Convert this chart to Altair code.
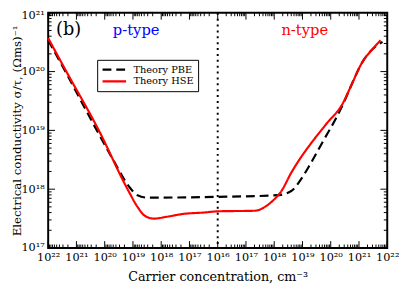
import json
import math
import altair as alt
import pandas as pd

# ---------------- data ----------------
# p-type side (hole concentration, cm^-3) and n-type side (electron concentration)
pbe_p_conc = [1e22, 2.6e21, 2.0e20, 5.1e19, 1.3e19, 6.9e18, 3.2e18, 9.5e17, 1e16]
pbe_p_sigma = [3.4e20, 1.05e20, 1.05e19, 3.2e18, 1.07e18, 7.9e17, 7.2e17, 7.2e17, 7.4e17]
pbe_n_conc = [1e16, 1.3e18, 4.0e18, 8.9e18, 2.0e19, 5.6e19, 1.6e20, 2.75e20, 4.8e20, 1.35e21, 3.0e21, 6.8e21]
pbe_n_sigma = [7.4e17, 7.9e17, 9.3e17, 1.48e18, 2.8e18, 6.8e18, 1.66e19, 2.8e19, 5.2e19, 1.48e20, 2.4e20, 3.2e20]

hse_p_conc = [1e22, 2.4e21, 1.7e20, 1.55e19, 6.9e18, 3.7e18, 1.8e18, 6.3e17, 1.6e17, 3.3e16, 1e16]
hse_p_sigma = [3.7e20, 1.05e20, 1.05e19, 1.0e18, 5.0e17, 3.5e17, 3.16e17, 3.4e17, 3.8e17, 4.0e17, 4.2e17]
hse_n_conc = [1e16, 2.1e17, 4.7e17, 8.7e17, 1.8e18, 4.0e18, 8.9e18, 2.0e19, 7.1e19, 2.75e20, 4.8e20, 1.35e21, 3.0e21, 5.8e21]
hse_n_sigma = [4.2e17, 4.3e17, 5.0e17, 6.3e17, 9.3e17, 1.9e18, 3.5e18, 6.0e18, 1.3e19, 2.95e19, 5.2e19, 1.48e20, 2.4e20, 3.4e20]

series_names = ["Theory PBE", "Theory HSE"]
series_colors = ["#000000", "#ff0000"]

x_tick_labels = ["10²²", "10²¹", "10²⁰", "10¹⁹", "10¹⁸", "10¹⁷", "10¹⁶",
                 "10¹⁷", "10¹⁸", "10¹⁹", "10²⁰", "10²¹", "10²²"]
y_tick_values = [1e17, 1e18, 1e19, 1e20, 1e21]
y_tick_labels = ["10¹⁷", "10¹⁸", "10¹⁹", "10²⁰", "10²¹"]

# ---------------- build table ----------------
rows = []
def add(name, pc, ps, nc, ns):
    for c, s in zip(pc, ps):
        rows.append({"series": name, "u": 16 - math.log10(c), "sigma": s})
    for c, s in list(zip(nc, ns))[1:]:
        rows.append({"series": name, "u": math.log10(c) - 16, "sigma": s})

add("Theory PBE", pbe_p_conc, pbe_p_sigma, pbe_n_conc, pbe_n_sigma)
add("Theory HSE", hse_p_conc, hse_p_sigma, hse_n_conc, hse_n_sigma)
df = pd.DataFrame(rows)

# tick positions (log decades mirrored about 10^16)
xmaj = [{"u": float(k)} for k in range(-6, 7)]
xmin = []
for e in range(16, 22):
    for m in range(2, 10):
        d = e + math.log10(m) - 16
        xmin.append({"u": -d})
        xmin.append({"u": d})
ymaj = [{"sigma": v} for v in y_tick_values]
ymin = [{"sigma": m * 10.0 ** e} for e in range(17, 21) for m in range(2, 10)]

W, H = 346, 240
FONT = "DejaVu Serif"

xscale = alt.Scale(domain=[-6, 6], nice=False, zero=False)
yscale = alt.Scale(type="log", domain=[1e17, 1e21], nice=False)

xaxis = alt.Axis(
    values=list(range(-6, 7)),
    labelExpr=json.dumps(x_tick_labels, ensure_ascii=False) + "[round(datum.value) + 6]",
    ticks=False, domain=False, grid=False,
    labelFont=FONT, labelFontSize=11.5, labelColor="black", labelPadding=4,
    labelOverlap=False, labelFlush=False,
    title="Carrier concentration, cm⁻³", titleFont=FONT, titleFontSize=13,
    titleFontWeight="normal", titleColor="black", titlePadding=8,
)
yaxis = alt.Axis(
    values=y_tick_values,
    labelExpr=json.dumps(y_tick_labels, ensure_ascii=False) + "[round(log(datum.value) / LN10) - 17]",
    ticks=False, domain=False, grid=False,
    labelFont=FONT, labelFontSize=11.5, labelColor="black", labelPadding=4,
    labelOverlap=False, labelFlush=False,
    labelOffset={"condition": {"test": "datum.value >= 1e21", "value": 3}, "value": 0},
    title="Electrical conductivity σ/τ, (Ωms)⁻¹", titleFont=FONT, titleFontSize=12,
    titleFontWeight="normal", titleColor="black",
    titleX=-32, titleY=H / 2, titleBaseline="middle", titleAngle=270, titleAlign="center",
)

X = alt.X("u:Q", scale=xscale, axis=xaxis)
Y = alt.Y("sigma:Q", scale=yscale, axis=yaxis)

lines = alt.Chart(df).mark_line(strokeWidth=2.2, interpolate="monotone").encode(
    x=X, y=Y,
    color=alt.Color("series:N", scale=alt.Scale(domain=series_names, range=series_colors),
                    legend=alt.Legend(title=None)),
    strokeDash=alt.StrokeDash("series:N", scale=alt.Scale(domain=series_names, range=[[9, 5], [1, 0]]),
                              legend=alt.Legend(title=None)),
    order="u:Q",
)

vline = alt.Chart(pd.DataFrame([{"u": 0.0}])).mark_rule(
    color="black", strokeWidth=2, strokeDash=[2, 4]).encode(x=X)

def xt(data, length):
    bot = alt.Chart(pd.DataFrame(data)).mark_rule(color="black", strokeWidth=1).encode(
        x=X, y=alt.value(H), y2=alt.value(H - length))
    top = alt.Chart(pd.DataFrame(data)).mark_rule(color="black", strokeWidth=1).encode(
        x=X, y=alt.value(0), y2=alt.value(length))
    return bot + top

def yt(data, length):
    left = alt.Chart(pd.DataFrame(data)).mark_rule(color="black", strokeWidth=1).encode(
        y=Y, x=alt.value(0), x2=alt.value(length))
    right = alt.Chart(pd.DataFrame(data)).mark_rule(color="black", strokeWidth=1).encode(
        y=Y, x=alt.value(W), x2=alt.value(W - length))
    return left + right

ann = pd.DataFrame([
    {"t": "(b)", "px": 8, "py": 18, "c": "black", "s": 18},
    {"t": "p-type", "px": 66, "py": 18, "c": "#0000ff", "s": 15},
    {"t": "n-type", "px": 238, "py": 18, "c": "#ff0000", "s": 15},
])
texts = alt.Chart(ann).mark_text(font=FONT, align="left", baseline="middle").encode(
    x=alt.X("px:Q", scale=None), y=alt.Y("py:Q", scale=None),
    text="t:N",
    color=alt.Color("c:N", scale=None),
    size=alt.Size("s:Q", scale=None),
)

chart = alt.layer(
    xt(xmin, 3.5), xt(xmaj, 7), yt(ymin, 3.5), yt(ymaj, 7),
    vline, lines, texts,
).properties(
    width=W, height=H,
    autosize=alt.AutoSizeParams(type="none"),
    padding={"left": 41, "top": 2, "right": 12, "bottom": 40},
).configure_view(
    stroke="black", strokeWidth=2,
).configure_legend(
    orient="none", legendX=50, legendY=48,
    strokeColor="black", padding=4, fillColor="white",
    labelFont=FONT, labelFontSize=10, labelColor="black",
    symbolType="M-1,0H3", symbolSize=144, symbolStrokeWidth=2.2,
    rowPadding=0, clipHeight=12, labelOffset=18,
)

chart.save("out.html", embed_options={"renderer": "svg", "actions": False})
